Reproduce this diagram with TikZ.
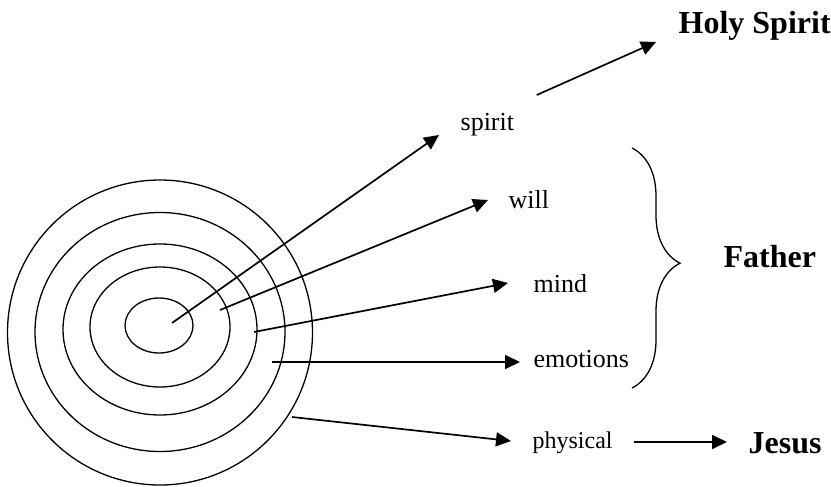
\documentclass[tikz,border=0pt]{standalone}
\usepackage{fontspec}
\setmainfont{Liberation Serif}
\usetikzlibrary{arrows.meta,decorations.pathreplacing}

\begin{document}
\begin{tikzpicture}[x=.5pt, y=-.5pt, line width=.65pt,
  lbl/.style={anchor=base west, inner sep=0pt, font=\fontsize{13}{15}\selectfont},
  big/.style={anchor=base west, inner sep=0pt, font=\fontsize{16}{19}\selectfont\bfseries},
  arr/.style={line width=.85pt, -{Triangle[length=7.5pt,width=7pt]}}]
\useasboundingbox (0,0) rectangle (831,487);
% rings
\foreach \cx/\cy/\rx/\ry in {160/332.5/152.5/152.5,160/332/125/119.5,160/329.5/97/85.5,160/327/70/60,159/325.5/34/27.5}{
  \draw (\cx,\cy) ellipse [x radius=\rx, y radius=\ry];
}
\coordinate (inspirit) at (172,323);
\coordinate (inwill) at (220,310);
\coordinate (inmind) at (254,332);
\coordinate (inemo) at (272,362);
\coordinate (inbody) at (292,417);
% labels
\node[lbl] (spirit) at (460,130) {spirit};
\node[lbl] (will) at (508,208) {will};
\node[lbl] (mind) at (533,292) {mind};
\node[lbl] (emotions) at (533,367) {emotions};
\node[lbl, font=\fontsize{12}{14}\selectfont] (physical) at (532,448) {physical};
\node[big] (holy) at (678,33) {Holy Spirit};
\node[big] (father) at (723,267) {Father};
\node[big] (jesus) at (748,453) {Jesus};
% arrows
\draw[arr] (inspirit) -- ([shift={(-21,5)}]spirit.base west);
\draw[arr] (inwill) -- ([shift={(-20,-8)}]will.base west);
\draw[arr] (inmind) -- ([shift={(-25,-9)}]mind.base west);
\draw[arr] (inemo) -- ([shift={(-13,-5)}]emotions.base west);
\draw[arr] (inbody) -- ([shift={(-21,-7)}]physical.base west);
\draw[arr] ([shift={(22,-35)}]spirit.base east) -- ([shift={(-22,9)}]holy.base west);
\draw[arr] ([shift={(21,-6)}]physical.base east) -- ([shift={(-21,-11)}]jesus.base west);
\draw[decorate, decoration={brace, amplitude=24pt, aspect=.48}] (632,148) -- (632,388);
\end{tikzpicture}
\end{document}
